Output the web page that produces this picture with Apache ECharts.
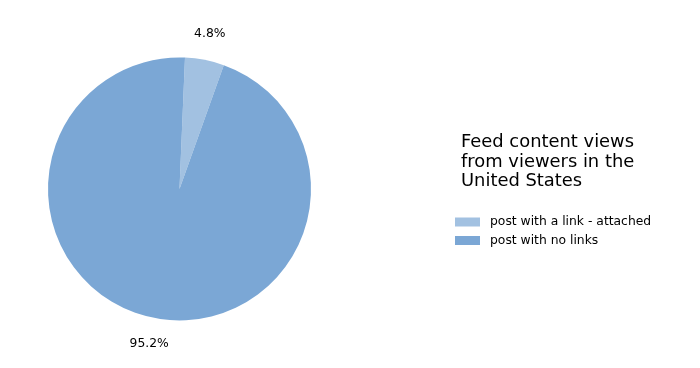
<!DOCTYPE html>
<html>
<head>
<meta charset="utf-8">
<script src="https://cdn.jsdelivr.net/npm/echarts@6/dist/echarts.min.js"></script>
<style>
html,body{margin:0;padding:0;background:#fff;}
#chart{width:700px;height:368px;}
</style>
</head>
<body>
<div id="chart"></div>
<script>
const categories = ['post with a link - attached', 'post with no links'];
const values = [4.8, 95.2];
const colors = ['#a2c1e1', '#7ba7d5'];
const titleText = 'Feed content views\nfrom viewers in the\nUnited States';

const FONT = 'DejaVu Sans';
const R = 131.5;
const center = [179.5, 189];
const startAngle = 87.6;

const pieData = categories.map((c, i) => ({ name: c, value: values[i], itemStyle: { color: colors[i] } }));
const labelData = categories.map((c, i) => ({ name: c, value: values[i] }));

const chart = echarts.init(document.getElementById('chart'), null, { renderer: 'canvas' });
chart.setOption({
  animation: false,
  backgroundColor: '#ffffff',
  title: {
    text: titleText,
    left: 461,
    top: 132.5,
    padding: 0,
    textStyle: { fontFamily: FONT, fontSize: 17.9, fontWeight: 'normal', color: '#000000', lineHeight: 19.6 }
  },
  legend: {
    data: categories,
    orient: 'vertical',
    left: 455,
    top: 215,
    padding: 0,
    itemWidth: 25,
    itemHeight: 9,
    itemGap: 4.5,
    icon: 'rect',
    selectedMode: false,
    textStyle: { fontFamily: FONT, fontSize: 12.35, color: '#000000', lineHeight: 14, padding: [0, 0, 0, 5] }
  },
  series: [
    {
      type: 'pie',
      center: center,
      radius: [0, R],
      startAngle: startAngle,
      clockwise: true,
      silent: true,
      label: { show: false },
      labelLine: { show: false },
      itemStyle: { borderWidth: 0 },
      data: pieData
    },
    {
      type: 'pie',
      center: center,
      radius: [R * 1.08, R * 1.28],
      startAngle: startAngle,
      clockwise: true,
      silent: true,
      itemStyle: { color: 'rgba(0,0,0,0)', borderWidth: 0 },
      label: {
        show: true,
        position: 'inside',
        fontFamily: FONT,
        fontSize: 12.35,
        color: '#000000',
        formatter: p => p.value.toFixed(1) + '%'
      },
      labelLine: { show: false },
      data: labelData
    }
  ]
});
</script>
</body>
</html>
